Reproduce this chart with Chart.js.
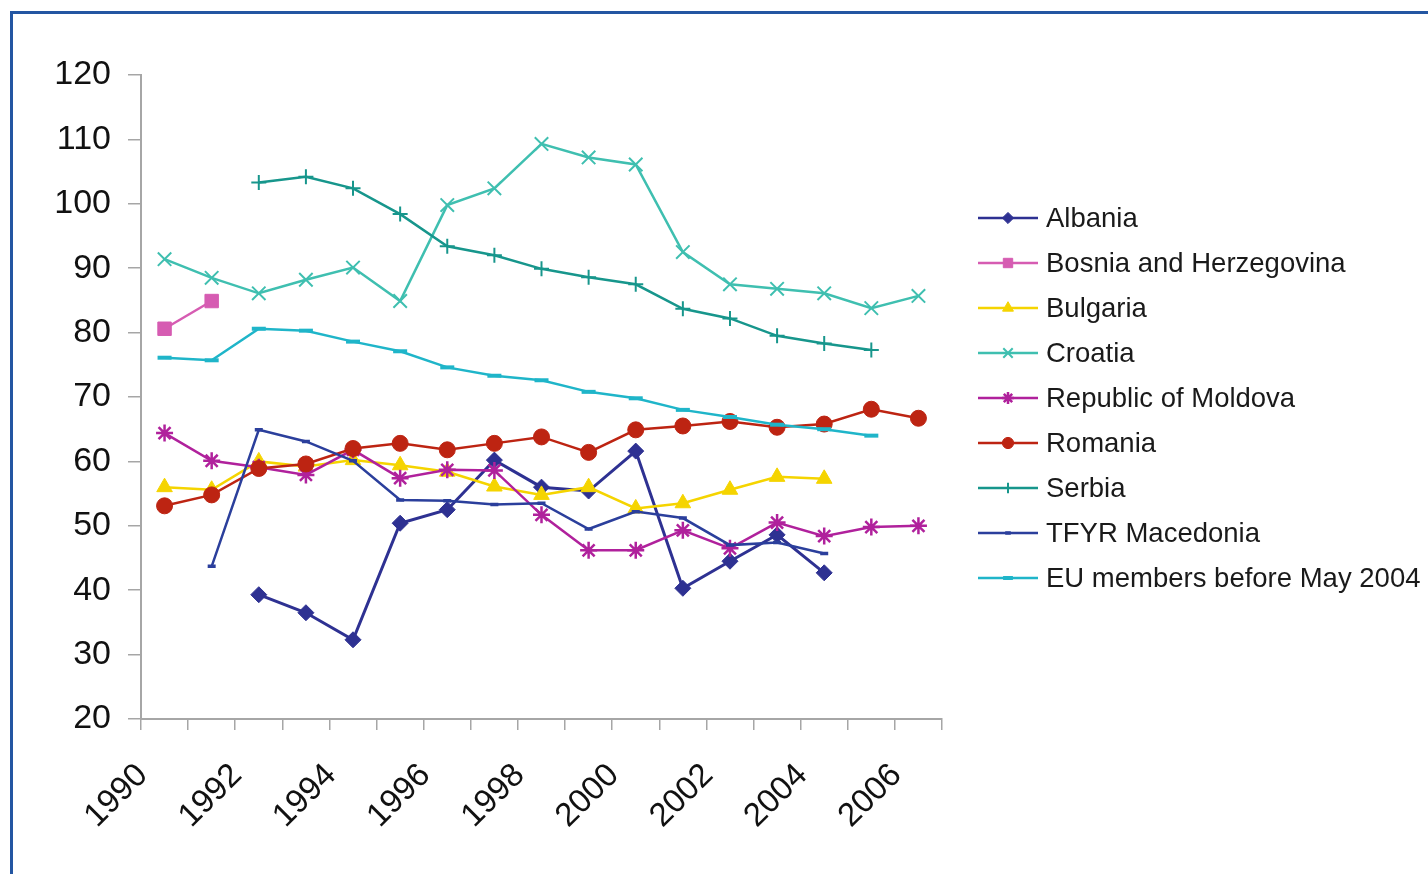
<!DOCTYPE html>
<html>
<head>
<meta charset="utf-8">
<script src="https://cdn.jsdelivr.net/npm/chart.js@4/dist/chart.umd.min.js"></script>
<style>
    html, body { margin: 0; padding: 0; background: #ffffff; overflow: hidden; }
    #wrap { position: relative; width: 1428px; height: 874px; }
    #frame {
        position: absolute; left: 10px; top: 11px;
        width: 1600px; height: 1000px;
        border: 3px solid #2356a2; box-sizing: border-box;
    }
    canvas { position: absolute; left: 0; top: 0; }
</style>
</head>
<body>
<div id="wrap">
    <div id="frame"></div>
    <canvas id="chart" width="1428" height="874"></canvas>
</div>
<script>
// Years on the category axis
const years = ['1990', '1991', '1992', '1993', '1994', '1995', '1996', '1997', '1998',
    '1999', '2000', '2001', '2002', '2003', '2004', '2005', '2006'];

// Series values by year (null = no data)
const albania = [null, null, 39.3, 36.5, 32.3, 50.4, 52.5, 60.2, 56.0, 55.4, 61.6, 40.3, 44.5, 48.6, 42.7, null, null];
const bosnia = [80.6, 84.9, null, null, null, null, null, null, null, null, null, null, null, null, null, null, null];
const bulgaria = [56.0, 55.6, 60.0, 59.2, 60.2, 59.4, 58.4, 56.1, 54.8, 56.0, 52.7, 53.5, 55.6, 57.6, 57.3, null, null];
const croatia = [91.4, 88.5, 86.1, 88.2, 90.1, 84.9, 99.8, 102.4, 109.3, 107.2, 106.1, 92.5, 87.5, 86.8, 86.1, 83.8, 85.7];
const moldova = [64.4, 60.1, 59.1, 57.9, 61.8, 57.4, 58.7, 58.6, 51.7, 46.2, 46.2, 49.3, 46.5, 50.5, 48.4, 49.8, 50.0];
const romania = [53.1, 54.8, 58.9, 59.6, 62.0, 62.8, 61.8, 62.8, 63.8, 61.4, 64.9, 65.5, 66.2, 65.3, 65.8, 68.1, 66.7];
const serbia = [null, null, 103.3, 104.2, 102.4, 98.4, 93.4, 92.0, 89.9, 88.6, 87.5, 83.7, 82.2, 79.5, 78.3, 77.3, null];
const macedonia = [null, 43.7, 64.9, 63.1, 60.1, 54.0, 53.9, 53.3, 53.5, 49.5, 52.2, 51.2, 47.0, 47.4, 45.7, null, null];
const euBefore2004 = [76.1, 75.7, 80.6, 80.3, 78.6, 77.1, 74.6, 73.3, 72.6, 70.8, 69.8, 68.0, 66.9, 65.7, 65.0, 64.0, null];

// Y axis range
const yMin = 20;
const yMax = 120;
const yStep = 10;

function series(label, data, color, style, radius, extra) {
    return Object.assign({
        label,
        data,
        borderColor: color,
        backgroundColor: color,
        pointBackgroundColor: color,
        pointBorderColor: color,
        borderWidth: 2.5,
        pointStyle: style,
        pointRadius: radius,
        pointHoverRadius: radius,
        pointBorderWidth: 1,
        tension: 0,
        fill: false
    }, extra || {});
}

const datasets = [
    series('Albania', albania, '#2e3192', 'rectRot', 8, { borderWidth: 3 }),
    series('Bosnia and Herzegovina', bosnia, '#d65cb2', 'rect', 9.5),
    series('Bulgaria', bulgaria, '#f5d400', 'triangle', 9),
    series('Croatia', croatia, '#3fbfb0', 'crossRot', 9.5, { pointBorderWidth: 2 }),
    series('Republic of Moldova', moldova, '#b0219c', 'star', 8.5, { pointBorderWidth: 2.5 }),
    series('Romania', romania, '#bd2412', 'circle', 8),
    series('Serbia', serbia, '#17968c', 'cross', 7.5, { pointBorderWidth: 2 }),
    series('TFYR Macedonia', macedonia, '#2b3f9c', 'line', 4, { pointBorderWidth: 3.5 }),
    series('EU members before May 2004', euBefore2004, '#1fb5c9', 'line', 7, { pointBorderWidth: 4 })
];
// later series sit on top of earlier ones
datasets.forEach((ds, i) => { ds.order = datasets.length - i; });

// Legend with line sample and marker, on the right
const sideLegend = {
    id: 'sideLegend',
    afterDraw(chart) {
        const ctx = chart.ctx;
        const x0 = 978, x1 = 1038, textX = 1046;
        let y = 218;
        ctx.save();
        chart.data.datasets.forEach(ds => {
            ctx.strokeStyle = ds.borderColor;
            ctx.lineWidth = 2.5;
            ctx.beginPath();
            ctx.moveTo(x0, y);
            ctx.lineTo(x1, y);
            ctx.stroke();

            ctx.fillStyle = ds.pointBackgroundColor;
            ctx.strokeStyle = ds.pointBorderColor;
            ctx.lineWidth = ds.pointBorderWidth;
            Chart.helpers.drawPoint(ctx, {
                pointStyle: ds.pointStyle,
                radius: ds.pointRadius * 0.7,
                rotation: 0,
                borderWidth: ds.pointBorderWidth
            }, (x0 + x1) / 2, y);

            ctx.fillStyle = '#1a1a1a';
            ctx.font = '27.5px "Liberation Sans", Arial, sans-serif';
            ctx.textAlign = 'left';
            ctx.textBaseline = 'middle';
            ctx.fillText(ds.label, textX, y + 1);
            y += 45;
        });
        ctx.restore();
    }
};

new Chart(document.getElementById('chart'), {
    type: 'line',
    data: { labels: years, datasets },
    plugins: [sideLegend],
    options: {
        responsive: false,
        animation: false,
        devicePixelRatio: 1,
        layout: { padding: { left: 0, top: 75, right: 486, bottom: 0 } },
        plugins: {
            legend: { display: false },
            tooltip: { enabled: false }
        },
        scales: {
            x: {
                type: 'category',
                offset: true,
                afterFit: (scale) => { scale.height = 155; },
                border: { display: true, color: '#a6a6a6', width: 2 },
                grid: {
                    offset: true,
                    drawOnChartArea: false,
                    drawTicks: true,
                    tickLength: 11,
                    color: '#a6a6a6',
                    lineWidth: 1.5
                },
                ticks: {
                    autoSkip: false,
                    minRotation: 45,
                    maxRotation: 45,
                    padding: 26,
                    labelOffset: -22,
                    color: '#111111',
                    font: { family: '"Liberation Sans", Arial, sans-serif', size: 33 },
                    callback: function (value, index) {
                        return index % 2 === 0 ? this.getLabelForValue(value) : '';
                    }
                }
            },
            y: {
                min: yMin,
                max: yMax,
                afterFit: (scale) => { scale.width = 141; },
                border: { display: true, color: '#a6a6a6', width: 2 },
                grid: {
                    drawOnChartArea: false,
                    drawTicks: true,
                    tickLength: 13,
                    color: '#a6a6a6',
                    lineWidth: 1.5
                },
                ticks: {
                    stepSize: yStep,
                    padding: 17,
                    color: '#111111',
                    font: { family: '"Liberation Sans", Arial, sans-serif', size: 34 }
                }
            }
        }
    }
});
</script>
</body>
</html>
